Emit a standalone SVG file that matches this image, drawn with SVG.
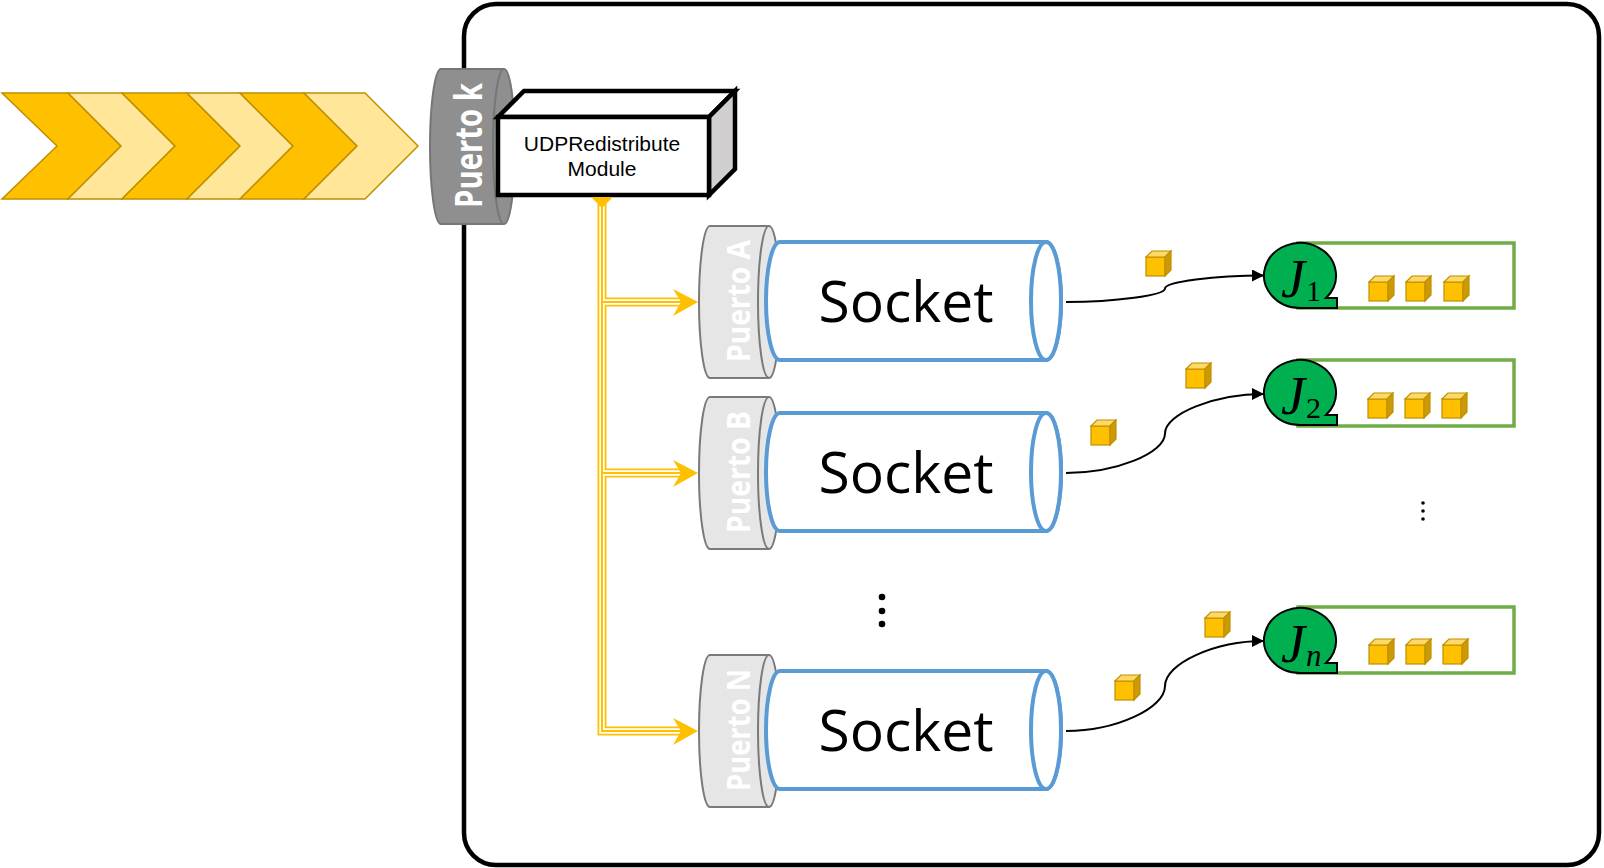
<svg xmlns="http://www.w3.org/2000/svg" xmlns:xlink="http://www.w3.org/1999/xlink" width="1604" height="868" viewBox="0 0 1604 868">
<style>
.dk{fill:#FFC000;stroke:#BF9000;stroke-width:1.5;stroke-linejoin:miter}
.lt{fill:#FFE699;stroke:#BF9000;stroke-width:1.5;stroke-linejoin:miter}
.pk{fill:#8F8F8F;stroke:#767676;stroke-width:2}
.pa{fill:#E7E6E6;stroke:#7A7A7A;stroke-width:2}
.ptxt{font-family:"Open Sans","DejaVu Sans",sans-serif;font-weight:700;fill:#FFFFFF;text-anchor:middle}
.sock{fill:#FFFFFF;stroke:#5B9BD5;stroke-width:4}
.stxt{font-family:"Open Sans","DejaVu Sans",sans-serif;font-size:57px;fill:#000;text-anchor:middle}
.y1{fill:none;stroke:#FFC000;stroke-width:9;stroke-linejoin:miter}
.y2{fill:none;stroke:#FFFFFF;stroke-width:5.4;stroke-linejoin:miter}
.y3{fill:none;stroke:#FFC000;stroke-width:2;stroke-linejoin:miter}
.ya{fill:#FFC000}
.curve{fill:none;stroke:#000;stroke-width:2;marker-end:url(#ah)}
.q{fill:#FFFFFF;stroke:#70AD47;stroke-width:3.5}
.jc{fill:#00B050;stroke:#000;stroke-width:2;stroke-linejoin:miter}
.jt{font-family:"Liberation Serif","DejaVu Serif",serif;font-style:italic;font-size:54px;fill:#000}
.js{font-family:"Liberation Serif","DejaVu Serif",serif;font-size:30px;fill:#000}
.jsi{font-family:"Liberation Serif","DejaVu Serif",serif;font-style:italic;font-size:31px;fill:#000}
</style>
<defs>
<marker id="ah" markerUnits="userSpaceOnUse" markerWidth="12" markerHeight="12" refX="12" refY="6" orient="auto">
<path d="M0,0 L12,6 L0,12 Z" fill="#000"/>
</marker>
<g id="cube">
<rect x="0" y="6" width="19" height="19" fill="#FFC000" stroke="#BF9000" stroke-width="1.2"/>
<polygon points="0,6 6,0 25,0 19,6" fill="#FFD966" stroke="#BF9000" stroke-width="1.2"/>
<polygon points="19,6 25,0 25,19 19,25" fill="#CC9A06" stroke="#BF9000" stroke-width="1.2"/>
</g>
</defs>
<rect width="1604" height="868" fill="#FFFFFF"/>

<g id="frame">
<rect x="464" y="4" width="1135" height="861" rx="32" ry="32" fill="none" stroke="#000" stroke-width="4.5"/>
</g>

<g id="input-stream">
<polygon class="dk" points="2,93 68,93 121,146 68,199 2,199 57,146"/>
<polygon class="lt" points="68,93 122,93 175,146 122,199 68,199 121,146"/>
<polygon class="dk" points="122,93 187,93 240,146 187,199 122,199 175,146"/>
<polygon class="lt" points="187,93 240,93 293,146 240,199 187,199 240,146"/>
<polygon class="dk" points="240,93 304,93 357,146 304,199 240,199 293,146"/>
<polygon class="lt" points="304,93 365,93 418,146 365,199 304,199 357,146"/>
</g>

<g id="puerto-k">
<path class="pk" d="M441,69 H504 A11,77.5 0 0 1 504,224 H441 A11,77.5 0 0 1 441,69 Z"/>
<path class="pk" d="M504,69 A11,77.5 0 0 0 504,224" fill="none"/>
<text class="ptxt" font-size="37" textLength="125" lengthAdjust="spacingAndGlyphs" transform="translate(482,145.5) rotate(-90)">Puerto k</text>
</g>

<g id="udp-module">
<polygon points="498,117 524,91 735,91 709,117" fill="#FFFFFF" stroke="#000" stroke-width="4.5" stroke-linejoin="miter"/>
<polygon points="709,117 735,91 735,169 709,195" fill="#D0CECE" stroke="#000" stroke-width="4.5" stroke-linejoin="miter"/>
<rect x="498" y="117" width="211" height="78" fill="#FFFFFF" stroke="#000" stroke-width="4.5"/>
<text font-family="Liberation Sans, Arial, sans-serif" font-size="21" text-anchor="middle" fill="#000"><tspan x="602" y="151">UDPRedistribute</tspan><tspan x="602" y="176">Module</tspan></text>
</g>

<g id="connectors">
<g id="yellow-links">
<path class="y1" d="M602,202 V731 H682 M602,302 H682 M602,473 H682"/>
<path class="y2" d="M602,206 V731 H682 M602,302 H682 M602,473 H682"/>
<path class="y3" d="M602,206 V731 H682 M602,302 H682 M602,473 H682"/>
<polygon class="ya" points="591,197 613,197 602,208"/>
<polygon class="ya" points="673,289 698,302 673,316 681,302"/>
<polygon class="ya" points="673,460 698,473 673,487 681,473"/>
<polygon class="ya" points="673,718 698,731 673,745 681,731"/>
</g>
<g id="curves">
<path class="curve" d="M1066,302 C1115.5,302 1165,295.3 1165,288.5 C1165,281.7 1214.5,275.5 1264,275.5"/>
<path class="curve" d="M1066,473 C1115.5,473 1165,453.3 1165,433.5 C1165,413.7 1214.5,394 1264,394"/>
<path class="curve" d="M1066,731 C1115.5,731 1165,708.5 1165,686 C1165,663.5 1214.5,641 1264,641"/>
</g>
</g>

<g id="puerto-a">
<path class="pa" d="M710,226 H769 A11,76 0 0 1 769,378 H710 A11,76 0 0 1 710,226 Z"/>
<path class="pa" d="M769,226 A11,76 0 0 0 769,378" fill="none"/>
<text class="ptxt" font-size="33" font-weight="600" textLength="122" lengthAdjust="spacingAndGlyphs" transform="translate(750,301) rotate(-90)">Puerto A</text>
</g>
<g id="puerto-b">
<path class="pa" d="M710,397 H769 A11,76 0 0 1 769,549 H710 A11,76 0 0 1 710,397 Z"/>
<path class="pa" d="M769,397 A11,76 0 0 0 769,549" fill="none"/>
<text class="ptxt" font-size="33" font-weight="600" textLength="122" lengthAdjust="spacingAndGlyphs" transform="translate(750,472) rotate(-90)">Puerto B</text>
</g>
<g id="puerto-n">
<path class="pa" d="M710,655 H769 A11,76 0 0 1 769,807 H710 A11,76 0 0 1 710,655 Z"/>
<path class="pa" d="M769,655 A11,76 0 0 0 769,807" fill="none"/>
<text class="ptxt" font-size="33" font-weight="600" textLength="122" lengthAdjust="spacingAndGlyphs" transform="translate(750,730) rotate(-90)">Puerto N</text>
</g>

<g id="socket-a">
<path class="sock" d="M780,242 H1046 A15,59 0 0 1 1046,360 H780 A14,59 0 0 1 780,242 Z"/>
<ellipse class="sock" cx="1046" cy="301" rx="15" ry="59"/>
<text class="stxt" x="906" y="322">Socket</text>
</g>
<g id="socket-b">
<path class="sock" d="M780,413 H1046 A15,59 0 0 1 1046,531 H780 A14,59 0 0 1 780,413 Z"/>
<ellipse class="sock" cx="1046" cy="472" rx="15" ry="59"/>
<text class="stxt" x="906" y="493">Socket</text>
</g>
<g id="socket-n">
<path class="sock" d="M780,671 H1046 A15,59 0 0 1 1046,789 H780 A14,59 0 0 1 780,671 Z"/>
<ellipse class="sock" cx="1046" cy="730" rx="15" ry="59"/>
<text class="stxt" x="906" y="751">Socket</text>
</g>

<g id="dots-sockets" fill="#000">
<circle cx="882" cy="597" r="3.3"/>
<circle cx="882" cy="611" r="3.3"/>
<circle cx="882" cy="624" r="3.3"/>
</g>
<g id="dots-queues" fill="#000">
<circle cx="1423" cy="503" r="1.8"/>
<circle cx="1423" cy="511" r="1.8"/>
<circle cx="1423" cy="519" r="1.8"/>
</g>

<g id="packets">
<use xlink:href="#cube" x="1146" y="251"/>
<use xlink:href="#cube" x="1186" y="363"/>
<use xlink:href="#cube" x="1091" y="420"/>
<use xlink:href="#cube" x="1205" y="612"/>
<use xlink:href="#cube" x="1115" y="675"/>
</g>

<g id="queue-1">
<rect class="q" x="1298" y="243" width="216" height="65"/>
<use xlink:href="#cube" x="1369" y="276"/>
<use xlink:href="#cube" x="1406" y="276"/>
<use xlink:href="#cube" x="1444" y="276"/>
<path class="jc" d="M1300,308 H1337 V298 H1326 A36,32.5 0 1 0 1300,308 Z"/>
<text class="jt" x="1281" y="297">J</text>
<text class="js" x="1306" y="301">1</text>
</g>
<g id="queue-2">
<rect class="q" x="1298" y="360" width="216" height="66"/>
<use xlink:href="#cube" x="1368" y="393"/>
<use xlink:href="#cube" x="1405" y="393"/>
<use xlink:href="#cube" x="1442" y="393"/>
<path class="jc" d="M1300,425 H1337 V415 H1326 A36,32.5 0 1 0 1300,425 Z"/>
<text class="jt" x="1281" y="414">J</text>
<text class="js" x="1306" y="418">2</text>
</g>
<g id="queue-n">
<rect class="q" x="1298" y="607" width="216" height="66"/>
<use xlink:href="#cube" x="1369" y="639"/>
<use xlink:href="#cube" x="1406" y="639"/>
<use xlink:href="#cube" x="1443" y="639"/>
<path class="jc" d="M1300,673 H1337 V663 H1326 A36,32.5 0 1 0 1300,673 Z"/>
<text class="jt" x="1281" y="662">J</text>
<text class="jsi" x="1306" y="666">n</text>
</g>
</svg>
